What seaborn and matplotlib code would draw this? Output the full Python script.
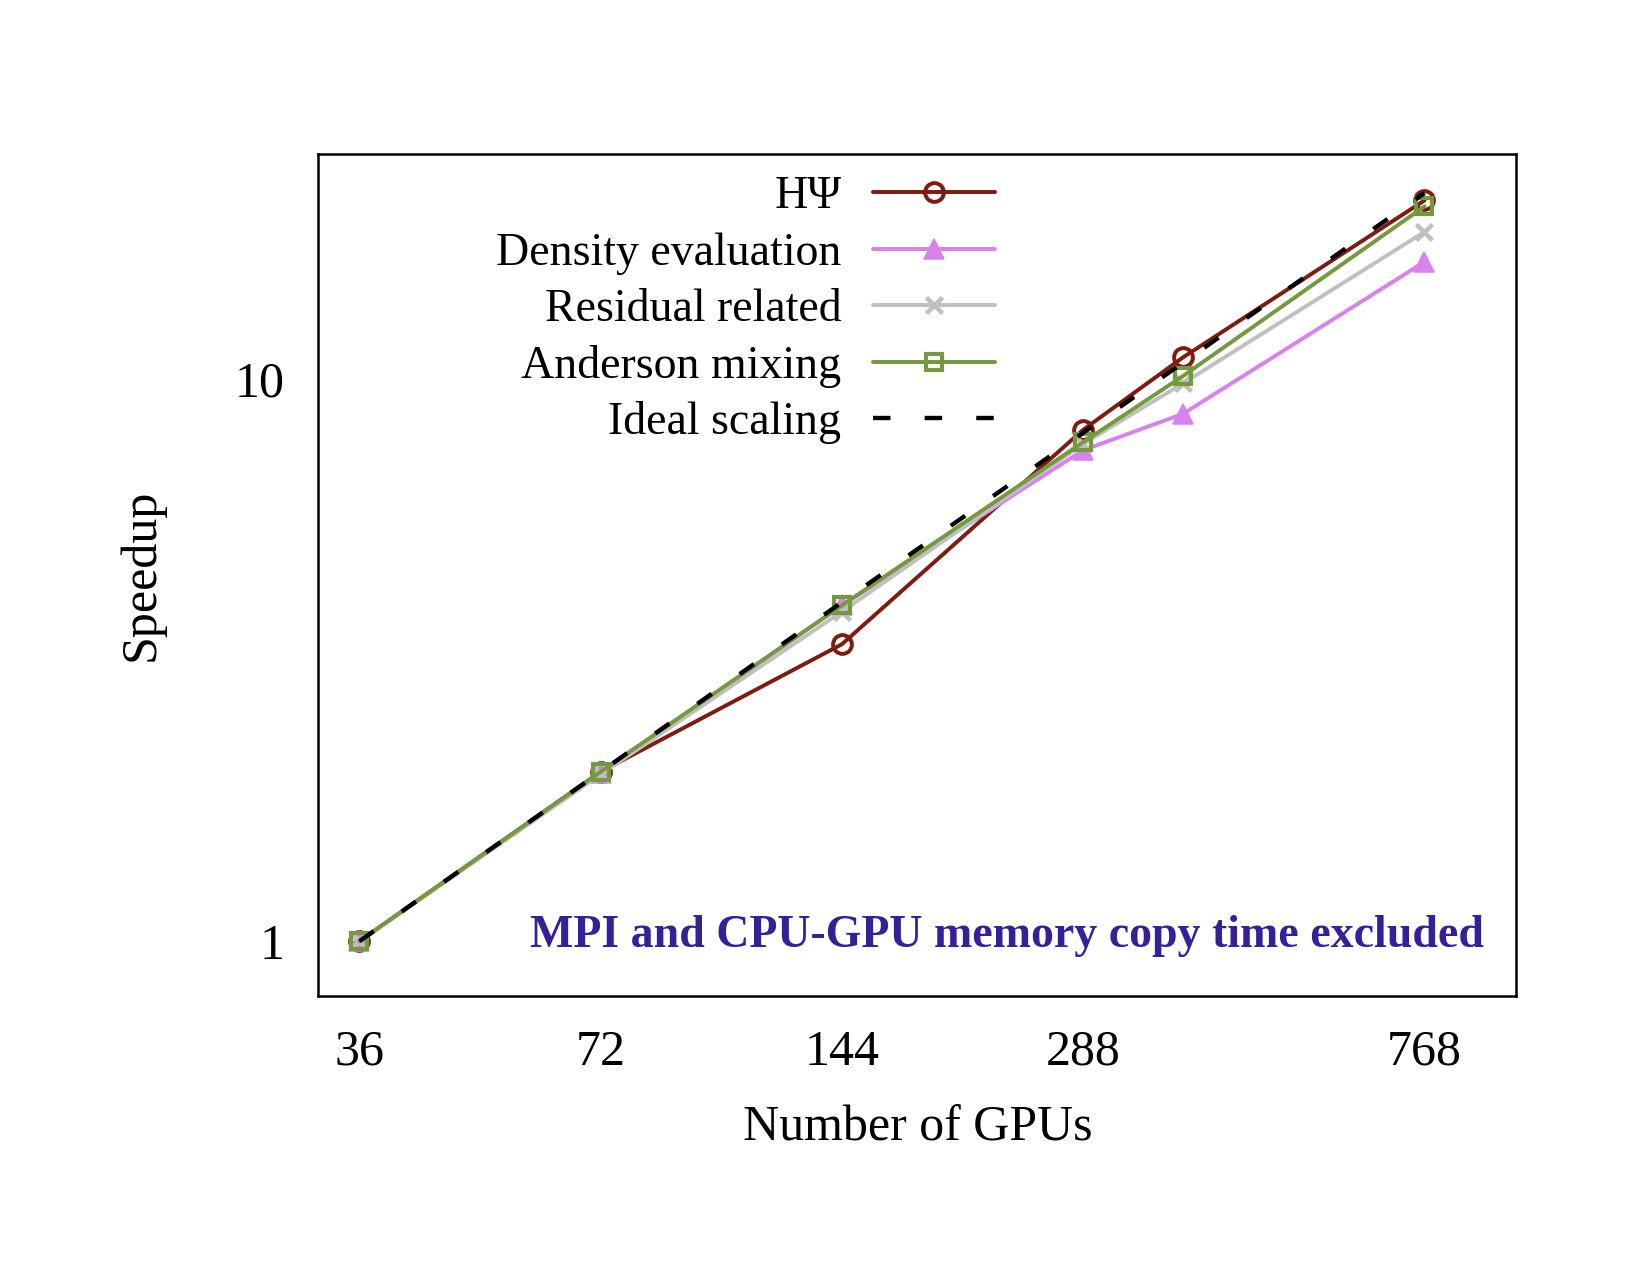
import matplotlib
matplotlib.use("Agg")
import matplotlib.pyplot as plt
import matplotlib.ticker as mticker
import seaborn as sns

# data
gpus = [36, 72, 144, 288, 384, 768]
hpsi = [1.0, 2.0, 3.37, 8.1, 10.9, 20.7]
density = [1.0, 1.99, 3.95, 7.45, 8.65, 16.1]
residual = [1.0, 1.98, 3.85, 7.65, 9.8, 18.2]
anderson = [1.0, 2.0, 3.95, 7.7, 10.1, 20.2]
ideal = [1.0, 2.0, 4.0, 8.0, 10.67, 21.33]

xtick_values = [36, 72, 144, 288, 768]
xtick_labels = ["36", "72", "144", "288", "768"]

C_HPSI = "#7d1c10"
C_DENS = "#d982ee"
C_RES = "#c0c0c0"
C_AND = "#74993e"
C_NOTE = "#35209a"

sns.set_style("white")
plt.rcParams["font.family"] = ["Liberation Serif", "DejaVu Serif"]
plt.rcParams["text.color"] = "black"
plt.rcParams["axes.labelcolor"] = "black"
plt.rcParams["xtick.color"] = "black"
plt.rcParams["ytick.color"] = "black"
FS_AX = 24
FS_LEG = 22

fig = plt.figure(figsize=(11, 8.5), dpi=150)
ax = fig.add_axes([0.193, 0.219, 0.726, 0.660])

lw = 1.9
# plotted in the same order as the reference, later series on top
sns.lineplot(x=gpus, y=hpsi, ax=ax, color=C_HPSI, lw=lw, marker="o", markersize=9,
             markerfacecolor="none", markeredgecolor=C_HPSI, markeredgewidth=1.9,
             label="HΨ", zorder=2)
sns.lineplot(x=gpus, y=density, ax=ax, color=C_DENS, lw=lw, marker="^", markersize=9.5,
             markerfacecolor=C_DENS, markeredgecolor=C_DENS,
             label="Density evaluation", zorder=3)
sns.lineplot(x=gpus, y=residual, ax=ax, color=C_RES, lw=lw, marker="x", markersize=7.5,
             markeredgewidth=2.2, markeredgecolor=C_RES,
             label="Residual related", zorder=4)
sns.lineplot(x=gpus, y=anderson, ax=ax, color=C_AND, lw=lw, marker="s", markersize=8,
             markerfacecolor="none", markeredgecolor=C_AND, markeredgewidth=2.0,
             label="Anderson mixing", zorder=5)
sns.lineplot(x=gpus, y=ideal, ax=ax, color="black", lw=lw + 0.2, dashes=(4.0, 7.8),
             label="Ideal scaling", zorder=6)

ax.set_xscale("log")
ax.set_yscale("log")
ax.set_xlim(32, 1000)
ax.set_ylim(0.8, 25)

ax.xaxis.set_major_locator(mticker.FixedLocator(xtick_values))
ax.xaxis.set_major_formatter(mticker.FixedFormatter(xtick_labels))
ax.xaxis.set_minor_locator(mticker.NullLocator())
ax.yaxis.set_major_locator(mticker.FixedLocator([1, 10]))
ax.yaxis.set_major_formatter(mticker.FixedFormatter(["1", "10"]))
ax.yaxis.set_minor_locator(mticker.LogLocator(base=10, subs=range(2, 10), numticks=10))
ax.yaxis.set_minor_formatter(mticker.NullFormatter())

ax.tick_params(axis="both", which="major", direction="in", length=6, width=0.8,
               color="#606060", labelsize=FS_AX, labelcolor="black", pad=16)
ax.tick_params(axis="y", which="minor", direction="in", length=3, width=0.8,
               color="#606060")
ax.tick_params(top=False, right=False, which="both")

for sp in ax.spines.values():
    sp.set_linewidth(1.2)
    sp.set_color("black")

ax.set_xlabel("Number of GPUs", fontsize=FS_AX, labelpad=14)
ax.set_ylabel("Speedup", fontsize=FS_AX, labelpad=34)

ax.text(0.973, 0.058, "MPI and CPU-GPU memory copy time excluded", transform=ax.transAxes,
        ha="right", va="baseline", fontsize=FS_LEG, fontweight="bold", color=C_NOTE)

leg = ax.legend(loc="upper right", bbox_to_anchor=(0.603, 0.862), bbox_transform=fig.transFigure,
                frameon=False, markerfirst=False, fontsize=FS_LEG, handlelength=2.66,
                handletextpad=0.69, labelspacing=0.3, borderpad=0, borderaxespad=0)

fig.savefig("out.png", dpi=150)
